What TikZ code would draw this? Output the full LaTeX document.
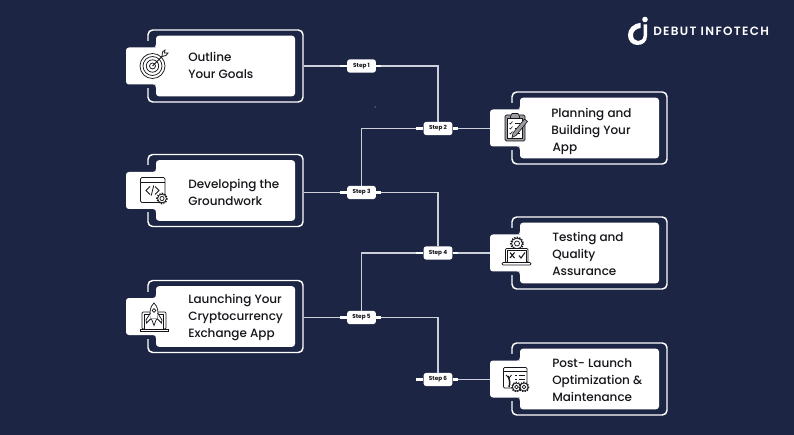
\documentclass[tikz,border=0pt]{standalone}
\usepackage{fontspec}
\setmainfont{Poppins Medium}[BoldFont = Poppins Bold]
\newfontfamily\logofont[LetterSpace=11]{Poppins SemiBold}
\usetikzlibrary{positioning}

\definecolor{navy}{HTML}{1D2544}
\definecolor{wire}{HTML}{CDD0DB}
\definecolor{ink}{HTML}{15151A}
\definecolor{slate}{HTML}{9A9AA0}

% one card: frame, white body with tab, and its text
\newcommand{\stepcard}[5]{
  \begin{scope}[shift={(#2, #3)}]
    \node [cardframe] (frame#1) at (0, 0){};
    \fill [navy] (-80, -25) rectangle (-75, 22);
    \node [cardtab] (tab#1) at (-82.5, 0){};
    \node [cardbody] (body#1) at (0, 0){};
    \fill [white] (-69.5, -22) .. controls (-69.5, -19.5) and (-70.5, -18.5) .. (-72.5, -18.5) -- (-69, -18.5) -- cycle;
    \fill [white] (-69.5, 22) .. controls (-69.5, 19.5) and (-70.5, 18.5) .. (-72.5, 18.5) -- (-69, 18.5) -- cycle;
    \node [cardtext] (text#1) at #5{#4};
  \end{scope}
}
% small cog
\newcommand{\cogicon}[3]{
  \draw [ink, line width = 1.2pt, dash pattern = on 1pt off 0.9pt] (#1, #2) circle (#3);
  \draw [icon] (#1, #2) circle (#3 - 0.6);
  \draw [icon] (#1, #2) circle (#3 * 0.42);
}

\begin{document}
\begin{tikzpicture}[x = 0.75pt, y = -0.75pt,
    cardframe/.style = {draw = white, line width = 1.1pt, rounded corners = 3.5pt, inner sep = 0pt, minimum width = 116.25pt, minimum height = 54pt},
    cardbody/.style = {fill = white, rounded corners = 2.2pt, inner sep = 0pt, minimum width = 104.25pt, minimum height = 45.4pt},
    cardtab/.style = {fill = white, rounded corners = 2.2pt, inner sep = 0pt, minimum width = 25.5pt, minimum height = 27.75pt},
    cardtext/.style = {anchor = west, align = left, inner sep = 0pt, text = ink, font = \fontsize{9}{12.75}\selectfont},
    stepbox/.style = {fill = white, rounded corners = 1.8pt, inner sep = 0pt, minimum width = 21.5pt, minimum height = 9.8pt, text = ink, font = \fontsize{4.3}{5}\selectfont\bfseries},
    wireline/.style = {draw = wire, line width = 1.1pt},
    stub/.style = {draw = white, line width = 2.2pt},
    icon/.style = {draw = ink, line width = 0.55pt, fill = white}]
  \fill [navy] (0, 0) rectangle (794, 435);
  \useasboundingbox (0, 0) rectangle (794, 435);

  % cards
  \stepcard{1}{225.5}{66}{Outline\\Your Goals}{(-37.5, -0.5)}
  \stepcard{2}{225.5}{190.5}{Developing the\\Groundwork}{(-37.5, 1.5)}
  \stepcard{3}{225.5}{316.5}{Launching Your\\Cryptocurrency\\Exchange App}{(-37.5, 1.5)}
  \stepcard{4}{589.5}{128}{Planning and\\Building Your\\\hspace{1pt}App}{(-38.5, 3)}
  \stepcard{5}{589.5}{253}{Testing and\\Quality\\Assurance}{(-37.5, 0.5)}
  \stepcard{6}{589.5}{379}{Post- Launch\\Optimization \&\\Maintenance}{(-37.5, 1.5)}

  % steps
  \node [stepbox] (s1) at (361.5, 66){Step 1};
  \node [stepbox] (s2) at (438, 128.5){Step 2};
  \node [stepbox] (s3) at (361.5, 192.5){Step 3};
  \node [stepbox] (s4) at (438, 253){Step 4};
  \node [stepbox] (s5) at (361.5, 317.5){Step 5};
  \node [stepbox] (s6) at (438, 379.5){Step 6};

  % connectors
  \draw [wireline] (frame1.east |- s1) -- (s1);
  \draw [wireline] (s1) -| (s2);
  \draw [wireline] (s2) -- (tab4.west |- s2);
  \draw [wireline] (s2) -| (s3);
  \draw [wireline] (frame2.east |- s3) -- (s3);
  \draw [wireline] (s3) -| (s4);
  \draw [wireline] (s4) -- (tab5.west |- s4);
  \draw [wireline] (s4) -| (s5);
  \draw [wireline] (frame3.east |- s5) -- (s5);
  \draw [wireline] (s5) -| (s6);
  \draw [wireline] (s6) -- (tab6.west |- s6);
  \foreach \s in {s1, s2, s3, s4, s5, s6} {
    \draw [stub] (\s.west) -- ++(-7, 0);
    \draw [stub] (\s.east) -- ++(5, 0);
  }
  \fill [white] (375, 107) circle (0.5);

  % target
  \foreach \r in {12.5, 9.5, 6.2, 3} {
    \draw [icon, fill = none] (152.5, 66) circle (\r);
  }
  \draw [ink, line width = 0.7pt] (152.5, 66) -- (164, 54.5);
  \draw [icon] (162, 56.5) -- (162.5, 52) -- (165, 50) -- (164.5, 53) -- (168, 53) -- (166, 55.5) -- cycle;

  % window with code
  \draw [icon, rounded corners = 1pt] (140.5, 177.5) rectangle (165, 202.5);
  \draw [icon] (140.5, 182.5) -- (165, 182.5);
  \draw [ink, line width = 0.6pt] (150, 186.5) -- (146, 190.5) -- (150, 194.5);
  \draw [ink, line width = 0.6pt] (155, 186.5) -- (159, 190.5) -- (155, 194.5);
  \draw [ink, line width = 0.6pt] (153.7, 185.5) -- (151.3, 195.5);
  \cogicon{162}{198.5}{5}

  % laptop with rocket
  \draw [icon, rounded corners = 0.8pt] (142, 312) rectangle (166, 329);
  \draw [icon] (144.5, 314.5) rectangle (163.5, 329);
  \draw [icon] (140, 329) rectangle (168, 331.5);
  \draw [icon] (154, 303) .. controls (158.5, 307) and (158.5, 313) .. (157.5, 319) -- (150.5, 319) .. controls (149.5, 313) and (149.5, 307) .. (154, 303) -- cycle;
  \draw [icon] (150.5, 313) -- (146, 320) -- (146.5, 323) -- (150.5, 319);
  \draw [icon] (157.5, 313) -- (162, 320) -- (161.5, 323) -- (157.5, 319);
  \draw [icon] (154, 310.5) circle (1.8);
  \draw [icon] (151.5, 319) -- (154, 325.5) -- (156.5, 319);

  % clipboard
  \draw [draw = ink, line width = 0.5pt, fill = slate, rounded corners = 1pt] (505, 115) rectangle (525, 141);
  \draw [draw = ink, line width = 0.4pt, fill = white] (507.5, 118) rectangle (522.5, 138.5);
  \draw [draw = ink, line width = 0.45pt, fill = slate] (510.5, 116.5) -- (512, 113.5) -- (518, 113.5) -- (519.5, 116.5) -- (519.5, 118.5) -- (510.5, 118.5) -- cycle;
  \foreach \y in {123, 128, 133} {
    \draw [ink, line width = 0.45pt] (509.5, \y) -- (510.5, \y + 1) -- (512.5, \y - 1.5);
    \draw [ink, line width = 0.45pt] (514.5, \y) -- (520, \y);
  }
  \draw [draw = ink, line width = 0.45pt, fill = slate] (513, 133) -- (524.5, 119) -- (527.5, 121.5) -- (516, 135.5) -- (512, 137.5) -- cycle;

  % laptop with cog and marks
  \cogicon{517}{243.5}{6}
  \draw [icon, rounded corners = 0.8pt] (505.5, 248.5) rectangle (528, 262.5);
  \draw [icon] (507.5, 250.5) rectangle (526, 262.5);
  \draw [icon, rounded corners = 0.8pt] (502, 262.5) rectangle (531, 265);
  \draw [ink, line width = 0.8pt] (510, 252.5) -- (514.5, 258);
  \draw [ink, line width = 0.8pt] (514.5, 252.5) -- (510, 258);
  \draw [ink, line width = 0.8pt] (519, 255.5) -- (521, 258) -- (525, 252.5);

  % window with wrench and cogs
  \draw [icon, rounded corners = 0.8pt] (503.5, 367.5) rectangle (527, 388);
  \draw [icon] (503.5, 371.5) -- (527, 371.5);
  \draw [ink, line width = 1.1pt] (508, 376) .. controls (510, 380) and (510, 384) .. (509, 387);
  \draw [ink, line width = 0.6pt] (506, 375) -- (509, 378) -- (511.5, 375);
  \foreach \y in {375, 379.5, 384} {
    \draw [ink, line width = 0.7pt] (515, \y) -- (516.5, \y);
    \draw [ink, line width = 0.7pt] (518.5, \y) -- (525, \y);
  }
  \cogicon{516.5}{387}{4.6}
  \cogicon{524}{387}{4.6}

  % logo
  \fill [white] (640.5, 23) .. controls (633, 23.5) and (628, 29) .. (628, 35) .. controls (628, 41) and (632, 45) .. (637.5, 45) .. controls (643, 45) and (647, 41.5) .. (647, 36) -- (647, 24.5) -- (643.5, 24.5) -- (643.5, 36) .. controls (643.5, 39.5) and (640.5, 41) .. (638, 41) .. controls (635, 41) and (633, 38.5) .. (633, 35) .. controls (633, 31.5) and (636, 28.5) .. (640.5, 28) -- cycle;
  \fill [white] (645, 19.5) circle (2.8);
  \node [anchor = west, inner sep = 0pt, text = white, font = \logofont\fontsize{9}{10}\selectfont] (logotext) at (653, 31.5){DEBUT INFOTECH};
\end{tikzpicture}
\end{document}
